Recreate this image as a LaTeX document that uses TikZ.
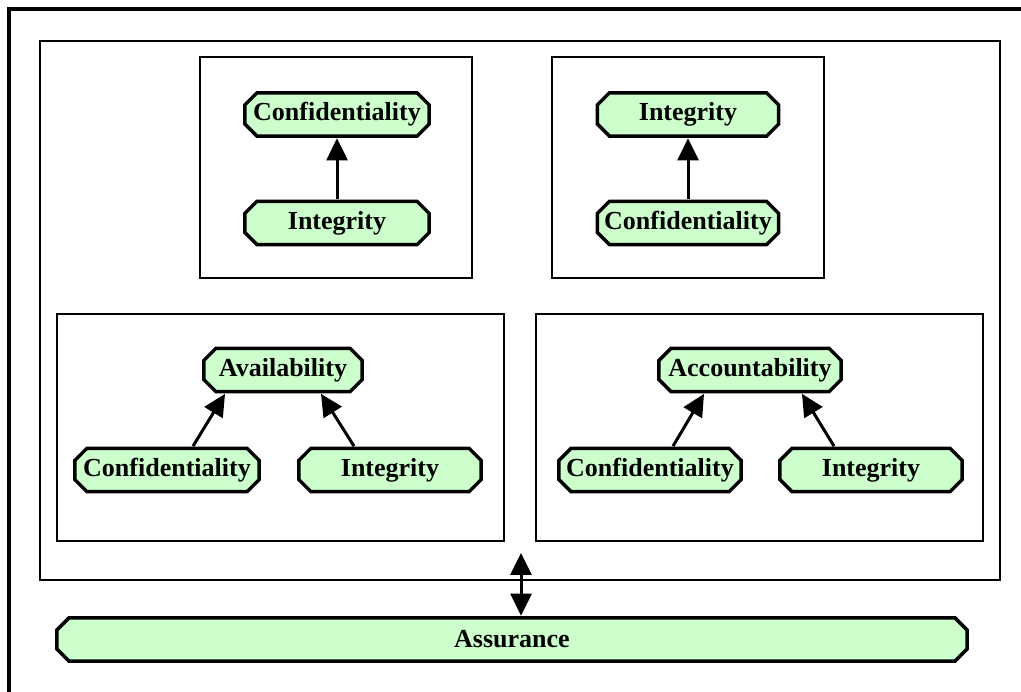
\documentclass[tikz,border=0pt]{standalone}
\usepackage{fontspec}
\setmainfont{Liberation Serif}
\usetikzlibrary{arrows.meta}
\definecolor{propgreen}{RGB}{204,255,204}
\tikzset{prop/.style={rectangle, fill=white, minimum height=0.94cm, minimum width=3.76cm, inner sep=0pt,
		font=\fontsize{14.8}{17}\selectfont\bfseries,
		path picture={
			\draw[line width=0.07cm, fill=propgreen, line join=miter]
			([shift={(0.28cm,-0.035cm)}]path picture bounding box.north west) -- ([shift={(-0.28cm,-0.035cm)}]path picture bounding box.north east)
			-- ([shift={(-0.035cm,-0.28cm)}]path picture bounding box.north east) -- ([shift={(-0.035cm,0.28cm)}]path picture bounding box.south east)
			-- ([shift={(-0.28cm,0.035cm)}]path picture bounding box.south east) -- ([shift={(0.28cm,0.035cm)}]path picture bounding box.south west)
			-- ([shift={(0.035cm,0.28cm)}]path picture bounding box.south west) -- ([shift={(0.035cm,-0.28cm)}]path picture bounding box.north west)
			-- cycle;}},
	frame/.style={draw=black, line width=0.045cm},
	dep/.style={-{Triangle[length=0.44cm,width=0.42cm]}, line width=0.06cm}}

\begin{document}
\begin{tikzpicture}[x=0.02cm, y=-0.02cm]
	\useasboundingbox (0,0) rectangle (1021,692);
	
	% outer frame (top and left only)
	\draw[line width=0.08cm] (9,692) -- (9,9) -- (1021,9);
	\draw[frame] (40,41) rectangle (1000,580);
	
	% top left
	\draw[frame] (200,57) rectangle (472,278);
	\node[prop] (tlconf) at (337,114.5) {Confidentiality};
	\node[prop] (tlint) at (337,223) {Integrity};
	\draw[dep] (tlint) -- (tlconf);
	
	% top right
	\draw[frame] (552,57) rectangle (824,278);
	\node[prop, minimum width=3.7cm] (trint) at (688,114.5) {Integrity};
	\node[prop, minimum width=3.7cm] (trconf) at (688,223) {Confidentiality};
	\draw[dep] (trconf) -- (trint);
	
	% bottom left
	\draw[frame] (57,314) rectangle (504,541);
	\node[prop, minimum width=3.24cm] (blavail) at (283,370) {Availability};
	\node[prop] (blconf) at (167,470) {Confidentiality};
	\node[prop, minimum width=3.72cm] (blint) at (390,470) {Integrity};
	\draw[dep] ([xshift=0.52cm]blconf.north) -- ([xshift=-1.16cm]blavail.south);
	\draw[dep] ([xshift=-0.72cm]blint.north) -- ([xshift=0.76cm]blavail.south);
	
	% bottom right
	\draw[frame] (536,314) rectangle (983,541);
	\node[prop, minimum width=3.72cm] (bracc) at (750,370) {Accountability};
	\node[prop, minimum width=3.72cm] (brconf) at (650,470) {Confidentiality};
	\node[prop, minimum width=3.72cm] (brint) at (871,470) {Integrity};
	\draw[dep] ([xshift=0.46cm]brconf.north) -- ([xshift=-0.92cm]bracc.south);
	\draw[dep] ([xshift=-0.74cm]brint.north) -- ([xshift=1.04cm]bracc.south);
	
	% Assurance
	\node[prop, minimum width=18.28cm] (assure) at (512,639.5) {Assurance};
	\coordinate (mainlink) at (521,553);
	\draw[{Triangle[length=0.44cm,width=0.42cm]}-{Triangle[length=0.44cm,width=0.42cm]}, line width=0.06cm]
		(mainlink) -- (assure.north -| mainlink);
\end{tikzpicture}
\end{document}
